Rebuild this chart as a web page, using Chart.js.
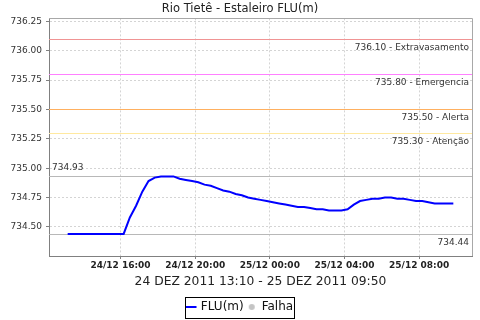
<!DOCTYPE html>
<html>
<head>
<meta charset="utf-8">
<script src="https://cdn.jsdelivr.net/npm/chart.js@4.4.1/dist/chart.umd.min.js"></script>
<style>
  html, body { margin: 0; padding: 0; background: #ffffff; }
  #c { display: block; }
</style>
</head>
<body>
<canvas id="c" width="480" height="320"></canvas>
<script>
// ---- data ----
const chartTitle = 'Rio Tietê - Estaleiro FLU(m)';
const xAxisTitle = '24 DEZ 2011 13:10 - 25 DEZ 2011 09:50';

const times = [
  '24/12 13:10','24/12 13:30','24/12 13:50','24/12 14:10','24/12 14:30','24/12 14:50',
  '24/12 15:10','24/12 15:30','24/12 15:50','24/12 16:10','24/12 16:30','24/12 16:50',
  '24/12 17:10','24/12 17:30','24/12 17:50','24/12 18:10','24/12 18:30','24/12 18:50',
  '24/12 19:10','24/12 19:30','24/12 19:50','24/12 20:10','24/12 20:30','24/12 20:50',
  '24/12 21:10','24/12 21:30','24/12 21:50','24/12 22:10','24/12 22:30','24/12 22:50',
  '24/12 23:10','24/12 23:30','24/12 23:50',
  '25/12 00:10','25/12 00:30','25/12 00:50','25/12 01:10','25/12 01:30','25/12 01:50',
  '25/12 02:10','25/12 02:30','25/12 02:50','25/12 03:10','25/12 03:30','25/12 03:50',
  '25/12 04:10','25/12 04:30','25/12 04:50','25/12 05:10','25/12 05:30','25/12 05:50',
  '25/12 06:10','25/12 06:30','25/12 06:50','25/12 07:10','25/12 07:30','25/12 07:50',
  '25/12 08:10','25/12 08:30','25/12 08:50','25/12 09:10','25/12 09:30','25/12 09:50'
];

const fluValues = [
  734.44,734.44,734.44,734.44,734.44,734.44,
  734.44,734.44,734.44,734.44,734.58,734.68,
  734.80,734.89,734.92,734.93,734.93,734.93,
  734.91,734.90,734.89,734.88,734.86,734.85,
  734.83,734.81,734.80,734.78,734.77,734.75,
  734.74,734.73,734.72,
  734.71,734.70,734.69,734.68,734.67,734.67,
  734.66,734.65,734.65,734.64,734.64,734.64,
  734.65,734.69,734.72,734.73,734.74,734.74,
  734.75,734.75,734.74,734.74,734.73,734.72,
  734.72,734.71,734.70,734.70,734.70,734.70
];

const xTickTimes  = ['24/12 16:00','24/12 20:00','25/12 00:00','25/12 04:00','25/12 08:00'];
const xRange      = ['24/12 12:10','25/12 10:50'];
const yTicks      = [734.50, 734.75, 735.00, 735.25, 735.50, 735.75, 736.00, 736.25];
const yRange      = [734.252, 736.276];

const thresholdValues = [736.10, 735.80, 735.50, 735.30];
const thresholdNames  = ['Extravasamento', 'Emergencia', 'Alerta', 'Atenção'];
const thresholdColors = ['#f09494', '#ff80ff', '#ffb060', '#ffe9a0'];

// ---- helpers ----
function toHours(s) {            // "DD/MM HH:MM" -> hours since 24/12 00:00
  const [d, hm] = s.split(' ');
  const day = parseInt(d.split('/')[0], 10);
  const [h, m] = hm.split(':').map(Number);
  return (day - 24) * 24 + h + m / 60;
}
const points = times.map((t, i) => ({ x: toHours(t), y: fluValues[i] }));
const maxVal = Math.max(...fluValues);
const minVal = Math.min(...fluValues);

// small grey dot for the "Falha" legend entry
const dot = document.createElement('canvas');
dot.width = 8; dot.height = 8;
(function () {
  const g = dot.getContext('2d');
  g.fillStyle = '#c4c4c4';
  g.beginPath(); g.arc(4, 4, 3, 0, Math.PI * 2); g.fill();
})();

const FONT = '"DejaVu Sans", "Liberation Sans", sans-serif';
Chart.defaults.font.family = FONT;
Chart.defaults.color = '#333';

const refLines = {
  id: 'refLines',
  beforeDatasetsDraw(chart) {
    const { ctx, chartArea: a, scales: { y } } = chart;
    ctx.save();
    ctx.lineWidth = 1;
    ctx.font = '9px ' + FONT;
    ctx.textBaseline = 'middle';
    thresholdValues.forEach((v, i) => {
      const py = Math.round(y.getPixelForValue(v)) + 0.5;
      ctx.strokeStyle = thresholdColors[i];
      ctx.beginPath(); ctx.moveTo(a.left, py); ctx.lineTo(a.right, py); ctx.stroke();
      ctx.fillStyle = '#333';
      ctx.textAlign = 'right';
      ctx.fillText(v.toFixed(2) + ' - ' + thresholdNames[i], a.right - 3, py + 8);
    });
    // max / min lines
    ctx.strokeStyle = '#b8b8b8';
    const pMax = Math.round(y.getPixelForValue(maxVal)) + 0.5;
    const pMin = Math.round(y.getPixelForValue(minVal)) + 0.5;
    ctx.beginPath(); ctx.moveTo(a.left, pMax); ctx.lineTo(a.right, pMax); ctx.stroke();
    ctx.beginPath(); ctx.moveTo(a.left, pMin); ctx.lineTo(a.right, pMin); ctx.stroke();
    ctx.fillStyle = '#333';
    ctx.textAlign = 'left';
    ctx.fillText(maxVal.toFixed(2), a.left + 3, pMax - 9);
    ctx.textAlign = 'right';
    ctx.fillText(minVal.toFixed(2), a.right - 3, pMin + 8);
    ctx.restore();
  },
  afterDraw(chart) {
    const { ctx, chartArea: a } = chart;
    ctx.save();
    // top & right frame
    ctx.strokeStyle = '#a8a8a8';
    ctx.lineWidth = 1;
    ctx.beginPath();
    ctx.moveTo(a.left, Math.round(a.top) + 0.5);
    ctx.lineTo(Math.round(a.right) + 0.5, Math.round(a.top) + 0.5);
    ctx.lineTo(Math.round(a.right) + 0.5, a.bottom);
    ctx.stroke();
    // legend border
    const lg = chart.legend;
    if (lg && lg.legendHitBoxes && lg.legendHitBoxes.length) {
      const hb = lg.legendHitBoxes;
      const l = Math.min(...hb.map(h => h.left));
      const r = Math.max(...hb.map(h => h.left + h.width));
      const t = hb[0].top;
      const cy = t + hb[0].height / 2;
      ctx.strokeStyle = '#000';
      ctx.strokeRect(Math.round(l - 2) + 0.5, Math.round(cy - 10) + 0.5, Math.round(r - l + 3), 21);
    }
    ctx.restore();
  }
};

const gridOpts = {
  color: '#d4d4d4',
  tickLength: 3,
  tickColor: '#808080',
  tickBorderDash: []
};

new Chart(document.getElementById('c'), {
  type: 'line',
  data: {
    datasets: [
      {
        label: 'FLU(m)',
        data: points,
        borderColor: '#0000ff',
        backgroundColor: '#0000ff',
        borderWidth: 2,
        pointRadius: 0,
        pointStyle: 'line',
        tension: 0,
        fill: false
      },
      {
        label: 'Falha',
        data: [],
        borderColor: '#c4c4c4',
        backgroundColor: '#c4c4c4',
        pointStyle: dot,
        pointRadius: 3,
        showLine: false
      }
    ]
  },
  options: {
    responsive: false,
    animation: false,
    devicePixelRatio: 1,
    layout: { padding: { left: 0, right: 0, top: 0, bottom: 0 } },
    plugins: {
      title: {
        display: true,
        text: chartTitle,
        color: '#222',
        font: { size: 11.5, weight: 'normal', lineHeight: 1.2 },
        padding: { top: 2, bottom: 2.6 }
      },
      legend: {
        display: true,
        position: 'bottom',
        maxHeight: 23,
        labels: {
          usePointStyle: true,
          boxWidth: 8,
          boxHeight: 8,
          padding: 4,
          color: '#111',
          font: { size: 12 }
        }
      },
      tooltip: { enabled: false }
    },
    scales: {
      x: {
        type: 'linear',
        min: toHours(xRange[0]),
        max: toHours(xRange[1]),
        afterBuildTicks: s => { s.ticks = xTickTimes.map(t => ({ value: toHours(t) })); },
        afterFit: s => { s.height = 41; },
        ticks: {
          autoSkip: false,
          maxRotation: 0,
          padding: 1,
          color: '#222',
          font: { size: 9, weight: 'bold' },
          callback: (v, i) => xTickTimes[i]
        },
        grid: gridOpts,
        border: { color: '#808080', width: 1, dash: [2, 2] },
        title: {
          display: true,
          text: xAxisTitle,
          color: '#222',
          font: { size: 12.3, lineHeight: 1.2 },
          padding: { top: 0, bottom: 8 }
        }
      },
      y: {
        type: 'linear',
        min: yRange[0],
        max: yRange[1],
        afterBuildTicks: s => { s.ticks = yTicks.map(v => ({ value: v })); },
        afterFit: s => { s.width = 49; },
        ticks: {
          padding: 4,
          color: '#333',
          font: { size: 9 },
          callback: v => Number(v).toFixed(2)
        },
        grid: gridOpts,
        border: { color: '#808080', width: 1, dash: [2, 2] }
      },
      spacer: {
        type: 'linear',
        position: 'right',
        display: true,
        afterFit: s => { s.width = 8; },
        ticks: { display: false },
        grid: { display: false, drawTicks: false },
        border: { display: false }
      }
    }
  },
  plugins: [refLines]
});
</script>
</body>
</html>
